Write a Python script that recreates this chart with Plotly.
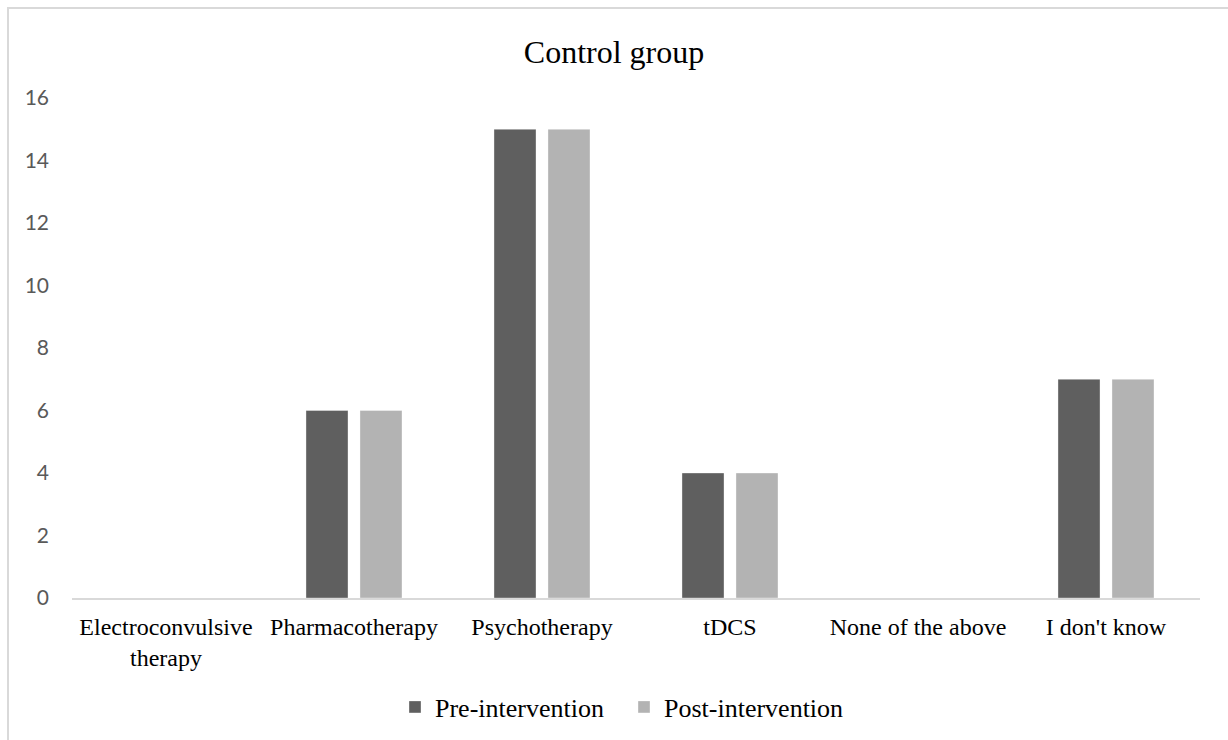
import plotly.graph_objects as go

categories = ["Electroconvulsive<br>therapy", "Pharmacotherapy", "Psychotherapy",
              "tDCS", "None of the above", "I don't know"]
pre_intervention = [0, 6, 15, 4, 0, 7]
post_intervention = [0, 6, 15, 4, 0, 7]
y_ticks = [0, 2, 4, 6, 8, 10, 12, 14, 16]

SERIF = "Liberation Serif, Times New Roman, serif"
SANS = "Lato, Open Sans, sans-serif"

W, H = 1228, 740
ML, MR, MT, MB = 72, 28, 98, 142
PW, PH = W - ML - MR, H - MT - MB

fig = go.Figure()
fig.add_trace(go.Bar(
    x=categories, y=pre_intervention, name="Pre-intervention",
    marker=dict(color="#5f5f5f", line=dict(color="rgba(255,255,255,0.35)", width=1)),
))
fig.add_trace(go.Bar(
    x=categories, y=post_intervention, name="Post-intervention",
    marker=dict(color="#b3b3b3", line=dict(color="rgba(255,255,255,0.35)", width=1)),
))

# outer chart-area frame
fig.add_shape(
    type="rect", xref="paper", yref="paper", layer="below",
    x0=(8 - ML) / PW, x1=(W + 20 - ML) / PW,
    y0=-(H + 20 - MT - PH) / PH, y1=1 + (MT - 8) / PH,
    line=dict(color="#d9d9d9", width=2), fillcolor="rgba(0,0,0,0)",
)

fig.update_layout(
    width=W, height=H,
    margin=dict(l=ML, r=MR, t=MT, b=MB),
    paper_bgcolor="white", plot_bgcolor="white",
    barmode="group", bargap=0.4255, bargroupgap=0.222,
    title=dict(text="Control group", x=0.5, xref="container", xanchor="center",
               y=1 - 52 / H, yref="container", yanchor="middle",
               font=dict(family=SERIF, size=32, color="#000000")),
    showlegend=True,
    legend=dict(orientation="h", xref="container", yref="container",
                x=395 / W, xanchor="left", y=1 - 707 / H, yanchor="middle",
                font=dict(family=SERIF, size=26, color="#000000"),
                itemwidth=30, entrywidth=184, entrywidthmode="pixels",
                traceorder="normal"),
    xaxis=dict(showline=True, linecolor="#d9d9d9", linewidth=2, showgrid=False,
               ticks="", ticklabelstandoff=6,
               tickfont=dict(family=SERIF, size=24, color="#000000"),
               fixedrange=True),
    yaxis=dict(range=[0, 16], tickvals=y_ticks, showgrid=False, zeroline=False,
               showline=False, ticks="", ticklabelstandoff=22,
               tickfont=dict(family=SANS, size=21, color="#595959"),
               fixedrange=True),
)

fig.write_html("out.html")
